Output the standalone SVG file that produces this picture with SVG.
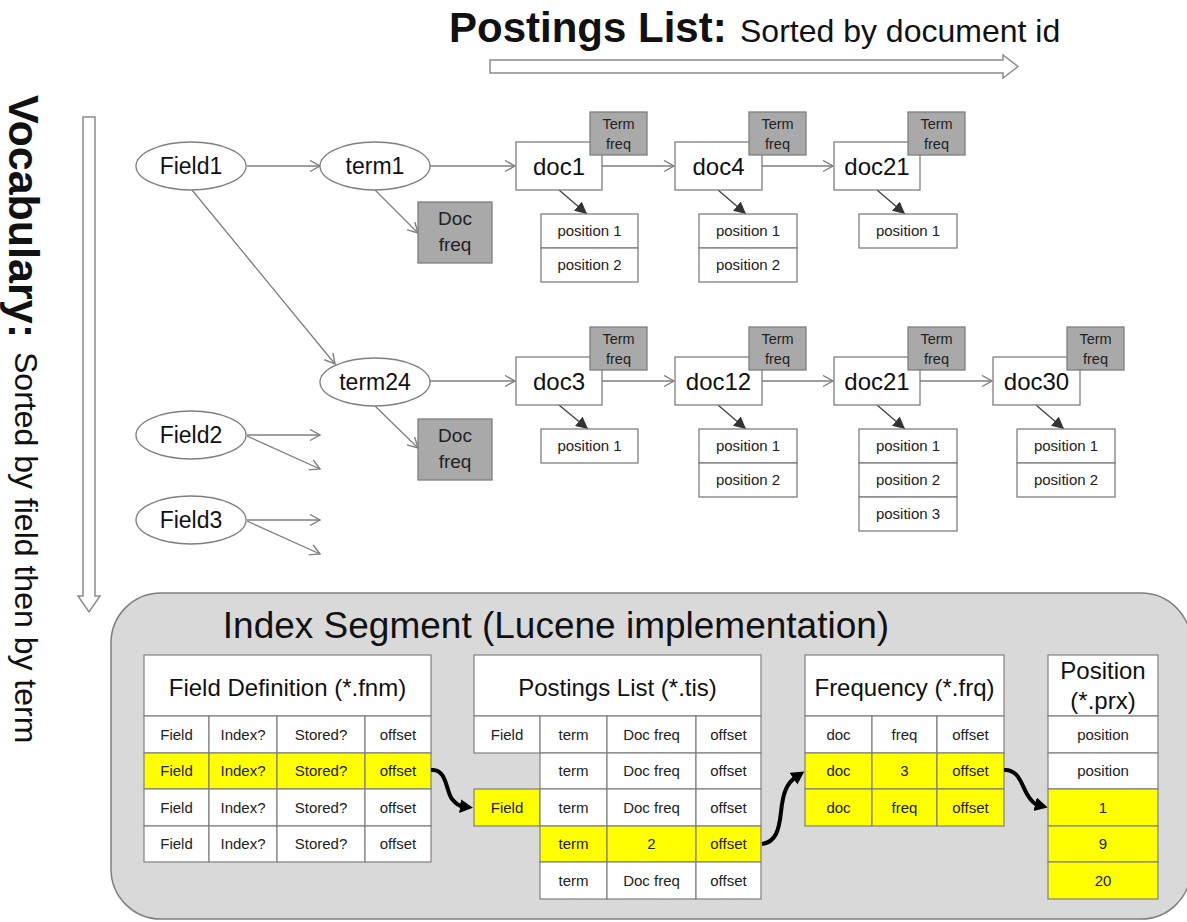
<svg xmlns="http://www.w3.org/2000/svg" width="1187" height="922" viewBox="0 0 1187 922">
<style>
text{font-family:"Liberation Sans",Arial,sans-serif;fill:#111}
.ell{fill:#fff;stroke:#7f7f7f;stroke-width:1.3}
.box{fill:#fff;stroke:#7f7f7f;stroke-width:1.3}
.gray{fill:#a9a9a9;stroke:#7f7f7f;stroke-width:1.3}
.cell{fill:#fff;stroke:#808080;stroke-width:1.2}
.yel{fill:#ffff00;stroke:#808080;stroke-width:1.2}
.lbl{font-size:23px;text-anchor:middle}
.doc{font-size:24px;text-anchor:middle}
.tf{font-size:14.5px;text-anchor:middle;fill:#222}
.df{font-size:19px;text-anchor:middle;fill:#222}
.pos{font-size:15px;text-anchor:middle;fill:#222}
.ct{font-size:15px;text-anchor:middle;fill:#222}
.th{font-size:24px;text-anchor:middle}
.ln{stroke:#7f7f7f;stroke-width:1.3;fill:none;marker-end:url(#open)}
.dn{stroke:#404040;stroke-width:1.3;fill:none;marker-end:url(#solid)}
.bk{stroke:#000;stroke-width:4;fill:none;marker-end:url(#bold)}
.hollow{fill:#fff;stroke:#8c8c8c;stroke-width:1.5}
</style>
<defs>
<marker id="open" markerUnits="userSpaceOnUse" markerWidth="14" markerHeight="14" refX="11" refY="6" orient="auto"><path d="M1,0.5 L11,6 L1,11.5" fill="none" stroke="#7f7f7f" stroke-width="1.4"/></marker>
<marker id="solid" markerUnits="userSpaceOnUse" markerWidth="14" markerHeight="12" refX="12" refY="6" orient="auto"><path d="M0,0 L12,6 L0,12 z" fill="#333"/></marker>
<marker id="bold" markerUnits="userSpaceOnUse" markerWidth="16" markerHeight="16" refX="3" refY="7" orient="auto"><path d="M0,0 L13,7 L0,14 z" fill="#000"/></marker>
</defs>

<g id="title-postings">
<text x="449" y="42" style="font-size:42px;font-weight:bold">Postings List:</text>
<text x="740" y="42" style="font-size:32px">Sorted by document id</text>
<path class="hollow" d="M490,60 H1003 V55 L1018,66.5 L1003,78 V73 H490 Z"/>
</g>

<g id="title-vocabulary">
<text transform="translate(9,95) rotate(90)" style="font-size:43px;font-weight:bold">Vocabulary:</text>
<text transform="translate(15,352) rotate(90)" style="font-size:32px">Sorted by field then by term</text>
<path class="hollow" d="M83,117 V596 H78 L89,612 L100,596 H95 V117 Z"/>
</g>

<g id="connectors">
<line class="ln" x1="247" y1="166" x2="320" y2="166"/>
<line class="ln" x1="430" y1="166" x2="515" y2="166"/>
<line class="ln" x1="602" y1="166" x2="674" y2="166"/>
<line class="ln" x1="762" y1="166" x2="833" y2="166"/>
<line class="ln" x1="375" y1="190" x2="418" y2="233"/>
<line class="ln" x1="192" y1="190" x2="335" y2="364"/>
<line class="ln" x1="430" y1="381" x2="515" y2="381"/>
<line class="ln" x1="602" y1="381" x2="674" y2="381"/>
<line class="ln" x1="762" y1="381" x2="833" y2="381"/>
<line class="ln" x1="920" y1="381" x2="992" y2="381"/>
<line class="ln" x1="375" y1="406" x2="418" y2="448"/>
<line class="ln" x1="247" y1="435" x2="320" y2="435"/>
<line class="ln" x1="247" y1="436" x2="320" y2="469"/>
<line class="ln" x1="247" y1="520" x2="320" y2="520"/>
<line class="ln" x1="247" y1="521" x2="320" y2="554"/>
<line class="dn" x1="559" y1="190" x2="587" y2="214"/>
<line class="dn" x1="718" y1="190" x2="746" y2="214"/>
<line class="dn" x1="877" y1="190" x2="905" y2="214"/>
<line class="dn" x1="559" y1="405" x2="588" y2="429"/>
<line class="dn" x1="718" y1="405" x2="746" y2="429"/>
<line class="dn" x1="877" y1="405" x2="905" y2="429"/>
<line class="dn" x1="1036" y1="405" x2="1064" y2="429"/>
</g>

<g id="field1"><ellipse class="ell" cx="191" cy="166" rx="55" ry="24"/><text class="lbl" x="191" y="174">Field1</text></g>
<g id="term1"><ellipse class="ell" cx="375" cy="166" rx="55" ry="24"/><text class="lbl" x="375" y="174">term1</text></g>
<g id="term1-docfreq"><rect class="gray" x="418" y="202" width="74" height="61"/><text class="df" x="455" y="225">Doc</text><text class="df" x="455" y="251">freq</text></g>
<g id="term24"><ellipse class="ell" cx="375" cy="382" rx="55" ry="24"/><text class="lbl" x="375" y="390">term24</text></g>
<g id="term24-docfreq"><rect class="gray" x="418" y="419" width="74" height="61"/><text class="df" x="455" y="442">Doc</text><text class="df" x="455" y="468">freq</text></g>
<g id="field2"><ellipse class="ell" cx="191" cy="435" rx="55" ry="24"/><text class="lbl" x="191" y="443">Field2</text></g>
<g id="field3"><ellipse class="ell" cx="191" cy="520" rx="55" ry="24"/><text class="lbl" x="191" y="528">Field3</text></g>

<g id="r1-doc1">
<rect class="box" x="516" y="142" width="86" height="48"/><text class="doc" x="559" y="174.5">doc1</text>
<rect class="gray" x="590" y="112" width="57" height="43"/><text class="tf" x="618.5" y="129">Term</text><text class="tf" x="618.5" y="149">freq</text>
<rect class="box" x="541" y="214" width="97" height="34"/><text class="pos" x="589.5" y="236">position 1</text>
<rect class="box" x="541" y="248" width="97" height="34"/><text class="pos" x="589.5" y="270">position 2</text>
</g>
<g id="r1-doc4">
<rect class="box" x="675" y="142" width="87" height="48"/><text class="doc" x="718.5" y="174.5">doc4</text>
<rect class="gray" x="749" y="112" width="57" height="43"/><text class="tf" x="777.5" y="129">Term</text><text class="tf" x="777.5" y="149">freq</text>
<rect class="box" x="699" y="214" width="98" height="34"/><text class="pos" x="748" y="236">position 1</text>
<rect class="box" x="699" y="248" width="98" height="34"/><text class="pos" x="748" y="270">position 2</text>
</g>
<g id="r1-doc21">
<rect class="box" x="834" y="142" width="86" height="48"/><text class="doc" x="877" y="174.5">doc21</text>
<rect class="gray" x="908" y="112" width="57" height="43"/><text class="tf" x="936.5" y="129">Term</text><text class="tf" x="936.5" y="149">freq</text>
<rect class="box" x="859" y="214" width="98" height="34"/><text class="pos" x="908" y="236">position 1</text>
</g>

<g id="r2-doc3">
<rect class="box" x="516" y="357" width="86" height="48"/><text class="doc" x="559" y="389.5">doc3</text>
<rect class="gray" x="590" y="327" width="57" height="43"/><text class="tf" x="618.5" y="344">Term</text><text class="tf" x="618.5" y="364">freq</text>
<rect class="box" x="541" y="429" width="97" height="34"/><text class="pos" x="589.5" y="451">position 1</text>
</g>
<g id="r2-doc12">
<rect class="box" x="675" y="357" width="87" height="48"/><text class="doc" x="718.5" y="389.5">doc12</text>
<rect class="gray" x="749" y="327" width="57" height="43"/><text class="tf" x="777.5" y="344">Term</text><text class="tf" x="777.5" y="364">freq</text>
<rect class="box" x="699" y="429" width="98" height="34"/><text class="pos" x="748" y="451">position 1</text>
<rect class="box" x="699" y="463" width="98" height="34"/><text class="pos" x="748" y="485">position 2</text>
</g>
<g id="r2-doc21">
<rect class="box" x="834" y="357" width="86" height="48"/><text class="doc" x="877" y="389.5">doc21</text>
<rect class="gray" x="908" y="327" width="57" height="43"/><text class="tf" x="936.5" y="344">Term</text><text class="tf" x="936.5" y="364">freq</text>
<rect class="box" x="859" y="429" width="98" height="34"/><text class="pos" x="908" y="451">position 1</text>
<rect class="box" x="859" y="463" width="98" height="34"/><text class="pos" x="908" y="485">position 2</text>
<rect class="box" x="859" y="497" width="98" height="34"/><text class="pos" x="908" y="519">position 3</text>
</g>
<g id="r2-doc30">
<rect class="box" x="993" y="357" width="87" height="48"/><text class="doc" x="1036.5" y="389.5">doc30</text>
<rect class="gray" x="1067" y="327" width="57" height="43"/><text class="tf" x="1095.5" y="344">Term</text><text class="tf" x="1095.5" y="364">freq</text>
<rect class="box" x="1017" y="429" width="98" height="34"/><text class="pos" x="1066" y="451">position 1</text>
<rect class="box" x="1017" y="463" width="98" height="34"/><text class="pos" x="1066" y="485">position 2</text>
</g>

<g id="index-segment">
<rect x="111" y="593" width="1080" height="326" rx="50" ry="50" fill="#d9d9d9" stroke="#7f7f7f" stroke-width="1.5"/>
<text x="556" y="638" style="font-size:37px;text-anchor:middle">Index Segment (Lucene implementation)</text>
</g>

<g id="field-definition">
<rect class="cell" x="144" y="655" width="287" height="61"/><text class="th" x="287.5" y="696">Field Definition (*.fnm)</text>
<rect class="cell" x="144" y="716" width="65" height="37"/><rect class="cell" x="209" y="716" width="68" height="37"/><rect class="cell" x="277" y="716" width="88" height="37"/><rect class="cell" x="365" y="716" width="66" height="37"/>
<text class="ct" x="176.5" y="739.5">Field</text><text class="ct" x="243" y="739.5">Index?</text><text class="ct" x="321" y="739.5">Stored?</text><text class="ct" x="398" y="739.5">offset</text>
<rect class="yel" x="144" y="753" width="65" height="36"/><rect class="yel" x="209" y="753" width="68" height="36"/><rect class="yel" x="277" y="753" width="88" height="36"/><rect class="yel" x="365" y="753" width="66" height="36"/>
<text class="ct" x="176.5" y="776">Field</text><text class="ct" x="243" y="776">Index?</text><text class="ct" x="321" y="776">Stored?</text><text class="ct" x="398" y="776">offset</text>
<rect class="cell" x="144" y="789" width="65" height="37"/><rect class="cell" x="209" y="789" width="68" height="37"/><rect class="cell" x="277" y="789" width="88" height="37"/><rect class="cell" x="365" y="789" width="66" height="37"/>
<text class="ct" x="176.5" y="812.5">Field</text><text class="ct" x="243" y="812.5">Index?</text><text class="ct" x="321" y="812.5">Stored?</text><text class="ct" x="398" y="812.5">offset</text>
<rect class="cell" x="144" y="826" width="65" height="36"/><rect class="cell" x="209" y="826" width="68" height="36"/><rect class="cell" x="277" y="826" width="88" height="36"/><rect class="cell" x="365" y="826" width="66" height="36"/>
<text class="ct" x="176.5" y="849">Field</text><text class="ct" x="243" y="849">Index?</text><text class="ct" x="321" y="849">Stored?</text><text class="ct" x="398" y="849">offset</text>
</g>

<g id="postings-list">
<rect class="cell" x="474" y="655" width="287" height="61"/><text class="th" x="617.5" y="696">Postings List (*.tis)</text>
<rect class="cell" x="474" y="716" width="66" height="37"/><rect class="cell" x="540" y="716" width="67" height="37"/><rect class="cell" x="607" y="716" width="89" height="37"/><rect class="cell" x="696" y="716" width="65" height="37"/>
<text class="ct" x="507" y="739.5">Field</text><text class="ct" x="573.5" y="739.5">term</text><text class="ct" x="651.5" y="739.5">Doc freq</text><text class="ct" x="728.5" y="739.5">offset</text>
<rect class="cell" x="540" y="753" width="67" height="36"/><rect class="cell" x="607" y="753" width="89" height="36"/><rect class="cell" x="696" y="753" width="65" height="36"/>
<text class="ct" x="573.5" y="776">term</text><text class="ct" x="651.5" y="776">Doc freq</text><text class="ct" x="728.5" y="776">offset</text>
<rect class="yel" x="474" y="789" width="66" height="37"/><rect class="cell" x="540" y="789" width="67" height="37"/><rect class="cell" x="607" y="789" width="89" height="37"/><rect class="cell" x="696" y="789" width="65" height="37"/>
<text class="ct" x="507" y="812.5">Field</text><text class="ct" x="573.5" y="812.5">term</text><text class="ct" x="651.5" y="812.5">Doc freq</text><text class="ct" x="728.5" y="812.5">offset</text>
<rect class="yel" x="540" y="826" width="67" height="36"/><rect class="yel" x="607" y="826" width="89" height="36"/><rect class="yel" x="696" y="826" width="65" height="36"/>
<text class="ct" x="573.5" y="849">term</text><text class="ct" x="651.5" y="849">2</text><text class="ct" x="728.5" y="849">offset</text>
<rect class="cell" x="540" y="862" width="67" height="37"/><rect class="cell" x="607" y="862" width="89" height="37"/><rect class="cell" x="696" y="862" width="65" height="37"/>
<text class="ct" x="573.5" y="885.5">term</text><text class="ct" x="651.5" y="885.5">Doc freq</text><text class="ct" x="728.5" y="885.5">offset</text>
</g>

<g id="frequency">
<rect class="cell" x="805" y="655" width="199" height="61"/><text class="th" x="904.5" y="696">Frequency (*.frq)</text>
<rect class="cell" x="805" y="716" width="67" height="37"/><rect class="cell" x="872" y="716" width="65" height="37"/><rect class="cell" x="937" y="716" width="67" height="37"/>
<text class="ct" x="838.5" y="739.5">doc</text><text class="ct" x="904.5" y="739.5">freq</text><text class="ct" x="970.5" y="739.5">offset</text>
<rect class="yel" x="805" y="753" width="67" height="36"/><rect class="yel" x="872" y="753" width="65" height="36"/><rect class="yel" x="937" y="753" width="67" height="36"/>
<text class="ct" x="838.5" y="776">doc</text><text class="ct" x="904.5" y="776">3</text><text class="ct" x="970.5" y="776">offset</text>
<rect class="yel" x="805" y="789" width="67" height="37"/><rect class="yel" x="872" y="789" width="65" height="37"/><rect class="yel" x="937" y="789" width="67" height="37"/>
<text class="ct" x="838.5" y="812.5">doc</text><text class="ct" x="904.5" y="812.5">freq</text><text class="ct" x="970.5" y="812.5">offset</text>
</g>

<g id="position">
<rect class="cell" x="1048" y="655" width="110" height="61"/><text class="th" x="1103" y="679">Position</text><text class="th" x="1103" y="709">(*.prx)</text>
<rect class="cell" x="1048" y="716" width="110" height="37"/><text class="ct" x="1103" y="739.5">position</text>
<rect class="cell" x="1048" y="753" width="110" height="36"/><text class="ct" x="1103" y="776">position</text>
<rect class="yel" x="1048" y="789" width="110" height="37"/><text class="ct" x="1103" y="812.5">1</text>
<rect class="yel" x="1048" y="826" width="110" height="36"/><text class="ct" x="1103" y="849">9</text>
<rect class="yel" x="1048" y="862" width="110" height="37"/><text class="ct" x="1103" y="885.5">20</text>
</g>

<g id="segment-connectors">
<path class="bk" d="M431,770 C447,768 446,792 452,799 C456,804 459,806 463,806.5"/>
<path class="bk" d="M762,844 C776,842 779,830 781,812 C783,792 787,783 796,777"/>
<path class="bk" d="M1004,770 C1019,769 1022,786 1027,794 C1031,801 1034,804 1038,805"/>
</g>
</svg>
